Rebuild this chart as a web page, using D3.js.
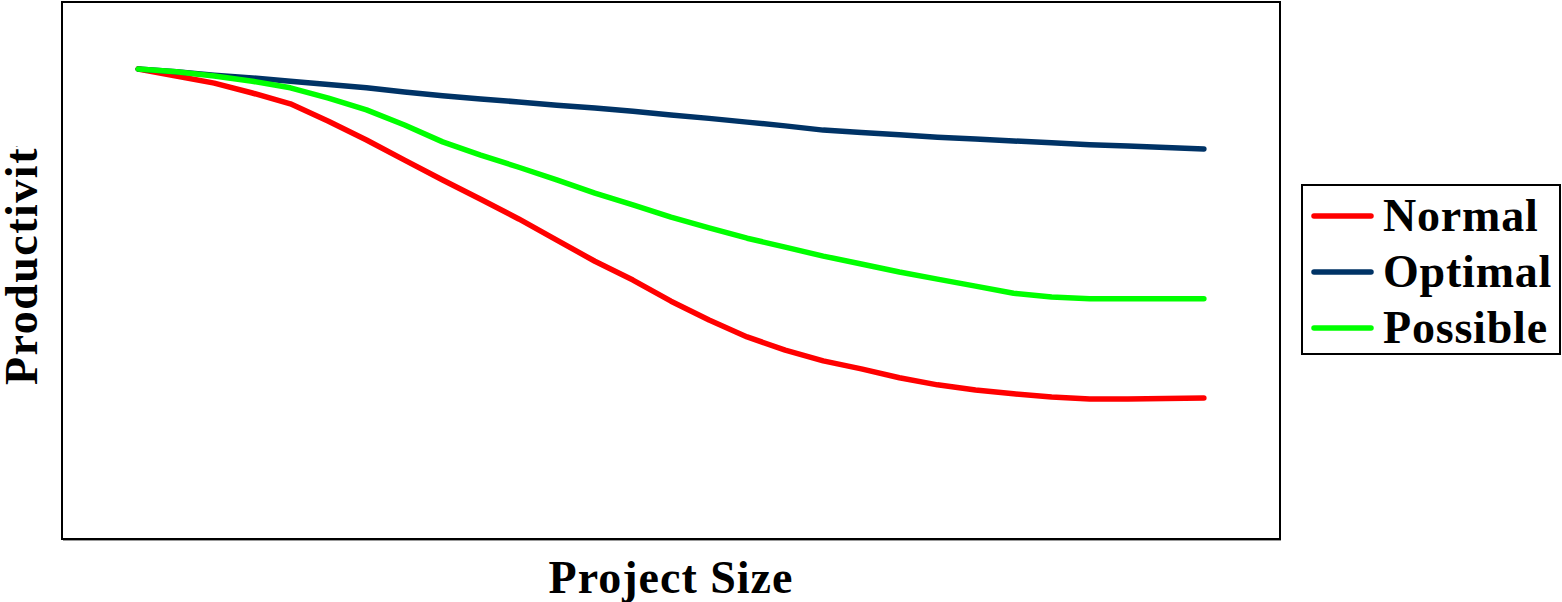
<!DOCTYPE html>
<html>
<head>
<meta charset="utf-8">
<script src="https://cdn.jsdelivr.net/npm/d3@7"></script>
<style>
  html, body { margin: 0; padding: 0; background: #fff; }
  svg { display: block; }
  text { font-family: "Liberation Serif", "Times New Roman", serif; font-weight: bold; fill: #000; }
</style>
</head>
<body>
<svg id="chart" width="1562" height="602"></svg>
<script>
// Project size steps (29 evenly spaced sizes)
const sizeSteps = d3.range(29);

// Productivity index, 100 = smallest project
const normalValues = [100, 98.5, 97.0, 94.9, 92.6, 88.9, 84.9, 80.6, 76.4, 72.3, 68.1, 63.6, 59.1, 55.1,
  50.6, 46.6, 43.0, 40.2, 37.9, 36.2, 34.3, 32.8, 31.7, 30.9, 30.2, 29.8, 29.8, 29.9, 30.0];
const optimalValues = [100, 99.4, 98.7, 98.1, 97.4, 96.7, 96.0, 95.1, 94.3, 93.6, 93.0, 92.3, 91.7, 91.0,
  90.2, 89.5, 88.7, 87.9, 87.0, 86.5, 86.0, 85.5, 85.1, 84.7, 84.3, 83.9, 83.6, 83.3, 83.0];
const possibleValues = [100, 99.4, 98.5, 97.4, 96.0, 93.8, 91.3, 88.1, 84.5, 81.7, 79.1, 76.4, 73.6, 71.1,
  68.5, 66.2, 64.0, 62.1, 60.2, 58.5, 56.8, 55.3, 53.8, 52.3, 51.5, 51.1, 51.1, 51.1, 51.1];

const seriesNames = ["Normal", "Optimal", "Possible"];
const seriesColors = ["#ff0000", "#003366", "#00ff00"];
const xTitle = "Project Size";
const yTitle = "Productivity";

const series = [
  { name: seriesNames[0], color: seriesColors[0], values: normalValues },
  { name: seriesNames[1], color: seriesColors[1], values: optimalValues },
  { name: seriesNames[2], color: seriesColors[2], values: possibleValues }
];

const svg = d3.select("#chart");
const plot = { left: 62, top: 2, right: 1280, bottom: 539 };

const x = d3.scaleLinear().domain([-2, 30]).range([plot.left, plot.right]);
const y = d3.scaleLinear().domain([0, 114.26]).range([plot.bottom, plot.top]);

// plot frame with a faint shadow under the bottom edge
svg.append("rect")
  .attr("x", plot.left + 1).attr("y", plot.bottom + 1)
  .attr("width", plot.right - plot.left).attr("height", 1)
  .attr("fill", "#999");
svg.append("rect")
  .attr("x", plot.left).attr("y", plot.top)
  .attr("width", plot.right - plot.left).attr("height", plot.bottom - plot.top)
  .attr("fill", "#fff").attr("stroke", "#000").attr("stroke-width", 2);

const line = d3.line()
  .x((d, i) => x(sizeSteps[i]))
  .y(d => y(d));

// green drawn last so it sits on top at the shared start
svg.append("g").selectAll("path")
  .data(series)
  .join("path")
  .attr("d", d => line(d.values))
  .attr("fill", "none")
  .attr("stroke", d => d.color)
  .attr("stroke-width", 5.5)
  .attr("stroke-linejoin", "round")
  .attr("stroke-linecap", "round");

// axis titles
svg.append("text")
  .attr("x", 671).attr("y", 593)
  .attr("text-anchor", "middle")
  .style("font-size", "46px")
  .style("letter-spacing", "1px")
  .text(xTitle);

// the vertical title runs past the top of its box and is cut there
svg.append("clipPath").attr("id", "ytitle-clip")
  .append("rect").attr("x", 0).attr("y", 146).attr("width", 60).attr("height", 300);
svg.append("g").attr("clip-path", "url(#ytitle-clip)")
  .append("text")
  .attr("transform", "translate(37,385) rotate(-90)")
  .attr("text-anchor", "start")
  .style("font-size", "46px")
  .style("letter-spacing", "1.5px")
  .text(yTitle);

// legend
const legend = svg.append("g");
legend.append("rect")
  .attr("x", 1302).attr("y", 185)
  .attr("width", 258).attr("height", 169)
  .attr("fill", "#fff").attr("stroke", "#000").attr("stroke-width", 2);

const legendRow = d3.scaleLinear().domain([0, 2]).range([216, 328]);
const items = legend.selectAll("g.item").data(series).join("g")
  .attr("class", "item")
  .attr("transform", (d, i) => `translate(0,${legendRow(i)})`);
items.append("line")
  .attr("x1", 1314).attr("x2", 1371)
  .attr("stroke", d => d.color)
  .attr("stroke-width", 5.5)
  .attr("stroke-linecap", "round");
items.append("text")
  .attr("x", 1383).attr("y", 15)
  .style("font-size", "46px")
  .style("letter-spacing", "0.8px")
  .text(d => d.name);
</script>
</body>
</html>
